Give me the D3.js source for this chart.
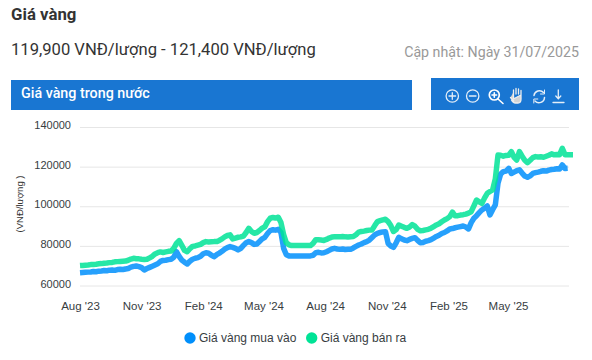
<!DOCTYPE html>
<html><head><meta charset="utf-8">
<script src="https://cdn.jsdelivr.net/npm/d3@7"></script>
<style>
html,body{margin:0;padding:0;background:#fff;}
svg{display:block;}
</style></head><body><svg id="c" width="592" height="360"></svg>
<script>
const startDate = "2023-08-01";
const stepDays = 4;
const buyValues = [66700,66800,66900,67000,67100,67300,67200,67500,67600,67800,67700,68000,68100,67900,68300,68400,68300,68600,
68800,69500,69900,70100,69800,69300,68100,68800,69400,70000,70600,71200,72400,72900,73000,73300,73500,74500,77300,75000,73100,72000,71100,72500,73500,74000,74300,75000,76300,76800,76500,75600,74800,75800,76600,77500,78600,79400,79900,79500,79000,78200,79000,80500,81800,82400,81900,81000,81200,82500,83800,84600,86500,88000,88400,88200,88600,87000,79000,75800,75200,
75200,75200,75200,75200,75200,75200,75200,75200,75500,76800,77000,76700,76800,77300,78000,78700,79000,78700,78500,78700,78400,78500,78500,79200,80000,80700,81200,81900,82400,83200,84500,85800,86600,87000,87300,87400,81500,80200,79500,81800,84600,83800,83200,82900,83500,84000,84400,83000,81800,82000,82600,82900,83400,84200,85000,85600,86500,87000,87800,88800,89000,89400,89700,90000,90300,89800,88800,92000,94200,95500,97000,98400,99300,100400,95900,98500,100900,111900,116500,117700,118000,119400,116800,117500,118200,118600,117000,115500,114900,115600,116800,117200,117500,117900,118200,118000,118500,118800,118900,119200,119000,121100,119300,119400,null,null];
const sellValues = [70300,70400,70500,70600,70800,70900,71000,71200,71300,71500,71600,71800,71900,72200,72300,72400,72500,72600,
73000,73600,74000,73800,73700,73500,73400,73500,74200,75000,76200,76800,77200,76900,77200,77500,77700,79000,81500,82900,80500,78000,77300,78800,80000,80200,80600,81000,81900,82400,82200,82300,82400,82400,83000,83800,84800,85500,85800,83800,84200,84600,84800,85200,87000,89100,87500,86600,87000,88000,89200,89900,92500,94200,94600,94300,94700,92000,86000,81800,80800,
80400,80400,80400,80400,80400,80400,80400,80400,81500,83400,83300,83200,83000,83500,84200,84700,84800,84900,84800,85000,84800,84700,84900,85000,85900,87200,87500,87700,88000,88200,88300,90500,92500,93000,93400,93700,92500,90500,87500,88500,90800,90200,89600,89100,89800,91000,90200,88600,87900,88000,88300,88600,89200,90000,90800,91400,92400,93300,94000,95000,97300,95400,95500,95800,96000,96300,96800,97500,100500,103400,102500,101700,104500,106800,107700,108500,114000,126100,126000,125500,125900,126000,127800,125000,123600,127800,125500,123500,122300,123500,124800,125300,125100,125200,125000,125500,126000,126700,126200,126400,126300,129500,126300,126300,126300,126300];
const yTicks = [60000,80000,100000,120000,140000];
const xTickDates = ["2023-08-01","2023-11-01","2024-02-01","2024-05-01","2024-08-01","2024-11-01","2025-02-01","2025-05-01"];
const seriesNames = ["Giá vàng mua vào","Giá vàng bán ra"];
const seriesColors = ["#008FFB","#00E396"];
const iso = d3.utcParse("%Y-%m-%d");
const dates = sellValues.map((_,i) => d3.utcDay.offset(iso(startDate), i*stepDays));

const svg = d3.select("#c");
const ui = "Roboto, sans-serif", chartFont = "'Liberation Sans', Arial, sans-serif";
const text = (x,y,s,size,fill,weight,anchor,fam) => svg.append("text").attr("x",x).attr("y",y).text(s)
  .attr("font-family",fam||ui).attr("font-size",size).attr("fill",fill).attr("font-weight",weight||400).attr("text-anchor",anchor||"start");

text(11,20,"Giá vàng",16.8,"#333",700);
text(11,55,"119,900 VNĐ/lượng - 121,400 VNĐ/lượng",16.6,"#333");
text(579,57,"Cập nhật: Ngày 31/07/2025",14.2,"#999",400,"end");
svg.append("rect").attr("x",11).attr("y",80).attr("width",401).attr("height",30).attr("fill","#1976D2");
text(21,98,"Giá vàng trong nước",14.3,"#fff",500);
svg.append("rect").attr("x",431).attr("y",78).attr("width",148).attr("height",32).attr("fill","#1976D2");

// toolbar icons
const ic = svg.append("g").attr("fill","none").attr("stroke","#e4eef8").attr("stroke-width",1.3).attr("stroke-linecap","round");
ic.append("circle").attr("cx",452.3).attr("cy",96).attr("r",6.2);
ic.append("path").attr("d","M449 96H455.6M452.3 92.7V99.3");
ic.append("circle").attr("cx",472.7).attr("cy",96).attr("r",6.2);
ic.append("path").attr("d","M469.4 96H476");
ic.append("circle").attr("cx",494.3).attr("cy",95).attr("r",5).attr("stroke-width",1.7).attr("stroke","#fff");
ic.append("path").attr("d","M492 95H496.6M494.3 92.7V97.3M498 99L503 103.5").attr("stroke-width",1.6).attr("stroke","#fff");
ic.append("path").attr("d","M510.5 97.5L513.5 101V92M513.5 94V90M516 94V88.5M518.5 94V89M521 95V90.5M521 95V99Q521 103 518 103H515.5Q513 103 511.5 100Z").attr("fill","#d4d4d4").attr("stroke","#eee").attr("stroke-width",1.3);
ic.append("path").attr("d","M534 95.5A5.5 5.5 0 0 1 543.5 92.5M544.5 97.5A5.5 5.5 0 0 1 535 101").attr("stroke-width",1.5);
ic.append("path").attr("d","M544.5 90V94H540.5M533.8 103V99H537.8").attr("stroke-width",1);
ic.append("path").attr("d","M558.3 90V98.5M555.8 96L558.3 98.8L560.8 96M553 102.5H564");

// chart
const x = d3.scaleUtc().domain([iso("2023-08-01"),iso("2025-07-31")]).range([80,569]);
const y = d3.scaleLinear().domain([60000,140000]).range([286,127.5]);

svg.append("g").selectAll("line").data(yTicks).join("line")
  .attr("x1",80).attr("x2",569).attr("y1",d=>y(d)).attr("y2",d=>y(d)).attr("stroke","#e6e6e6").attr("stroke-width",1);

const yAxis = d3.axisLeft(y).tickValues(yTicks).tickSize(0).tickPadding(0).tickFormat(d3.format("d"));
const gy = svg.append("g").attr("transform","translate(71,-2.3)").call(yAxis);
gy.select(".domain").remove();
gy.selectAll("text").attr("font-family",chartFont).attr("font-size",11).attr("fill","#373d3f").attr("dy","0.32em").attr("dx",0);

const xAxis = d3.axisBottom(x).tickValues(xTickDates.map(iso)).tickSize(0).tickPadding(0).tickFormat(d3.utcFormat("%b '%y"));
const gx = svg.append("g").attr("transform","translate(0,306.5)").call(xAxis);
gx.select(".domain").remove();
gx.selectAll("text").attr("font-family",chartFont).attr("font-size",11.5).attr("fill","#373d3f").attr("dy","0.32em");

svg.append("text").attr("transform","translate(23,204) rotate(-90)").attr("text-anchor","middle")
  .attr("font-family",chartFont).attr("font-size",9.5).attr("fill","#333").text("(VNĐ/lượng )");

[buyValues,sellValues].forEach((vals,k)=>{
  const line = d3.line().defined(d=>d[1]!=null).x(d=>x(d[0])).y(d=>y(d[1]));
  svg.append("path").datum(dates.map((d,i)=>[d,vals[i]])).attr("d",line)
    .attr("fill","none").attr("stroke",seriesColors[k]).attr("stroke-width",5.5).attr("stroke-opacity",0.85).attr("stroke-linejoin","round");
});

// legend
const lx = [190,311.7];
seriesNames.forEach((n,k)=>{
  svg.append("circle").attr("cx",lx[k]).attr("cy",338).attr("r",5.7).attr("fill",seriesColors[k]);
  text(lx[k]+9,342,n,12,"#373d3f",400,"start",chartFont);
});
</script></body></html>
